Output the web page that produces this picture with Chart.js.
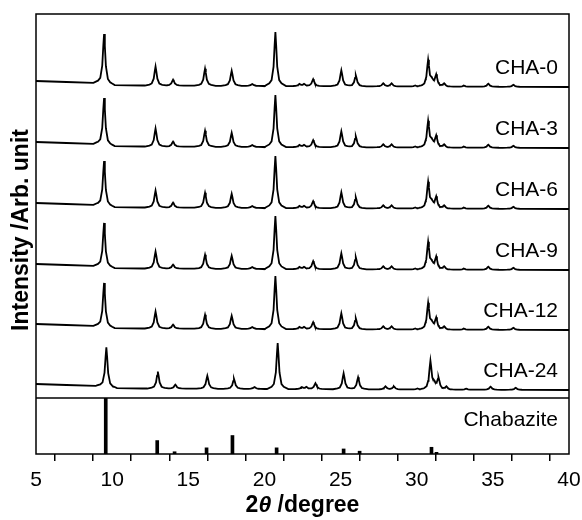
<!DOCTYPE html>
<html>
<head>
<meta charset="utf-8">
<script src="https://cdn.jsdelivr.net/npm/chart.js@4.4.0/dist/chart.umd.min.js"></script>
<style>
  html, body { margin: 0; padding: 0; background: #fff; }
  #wrap { width: 582px; height: 520px; }
</style>
</head>
<body>
<div id="wrap"><canvas id="xrdChart"></canvas></div>
<script>
// peak positions (2theta / degree), shared by all samples
var peakPos = [9.47, 12.85, 14.0, 16.1, 17.85, 19.2, 20.72, 22.3, 22.6, 23.2, 25.05, 26.0, 27.8, 28.35, 29.9, 30.75, 31.0, 31.28, 31.8, 33.1, 34.7, 36.35];

var samples = ['CHA-0', 'CHA-3', 'CHA-6', 'CHA-9', 'CHA-12', 'CHA-24'];
var sampleOffset = [311, 250, 189, 128, 68, 8];
var sampleShift = [0, 0, 0, 0, 0, 0.15];

// peak heights for each sample (same order as peakPos)
var cha0  = [50, 19, 6, 17, 15, 2, 54, 2, 2, 7, 16, 11, 3, 3, 1, 26, 5, 11, 3, 1, 3, 2];
var cha3  = [47, 18, 5, 16, 14, 2, 52, 2, 2, 7, 16, 11, 3, 3, 1, 26, 5, 11, 3, 1, 3, 2];
var cha6  = [45, 17, 5, 15, 14, 2, 52, 2, 2, 7, 16, 11, 3, 3, 1, 26, 5, 11, 3, 1, 3, 2];
var cha9  = [44, 17, 4, 14, 13, 2, 53, 2, 2, 8, 16, 12, 3, 3, 1, 27, 5, 12, 3, 1, 3, 2];
var cha12 = [44, 17, 4, 14, 13, 2, 53, 2, 2, 7, 16, 11, 3, 3, 1, 26, 5, 11, 3, 1, 3, 2];
var cha24 = [40, 17, 4, 13, 10, 2, 46, 2, 2, 6, 16, 12, 3, 3, 1, 28, 5, 11, 3, 1, 3, 2];
var heights = [cha0, cha3, cha6, cha9, cha12, cha24];

// low angle background of the patterns
var background = [[5, 6], [7, 5], [9, 4], [10, 2], [12, 1.5], [20, 1], [30, 0.5], [40, 0]];

// chabazite reference pattern
var refPos = [9.58, 12.96, 14.1, 16.2, 17.9, 20.8, 25.2, 26.25, 30.97, 31.3];
var refInt = [100, 24, 4, 11, 33, 11, 9, 5, 12, 3];

var xTicks = [5, 10, 15, 20, 25, 30, 35, 40];

// peak profile (line shape), not data
var shapeDx = [0, 0.05, 0.12, 0.25, 0.4, 0.7];
var shapeF = [1, 0.76, 0.36, 0.11, 0.05, 0];

function lerpTable(xs, ys, x) {
    if (x <= xs[0]) return ys[0];
    for (var i = 1; i < xs.length; i++) {
        if (x <= xs[i]) {
            var t = (x - xs[i - 1]) / (xs[i] - xs[i - 1]);
            return ys[i - 1] + t * (ys[i] - ys[i - 1]);
        }
    }
    return ys[ys.length - 1];
}

var bgX = background.map(function (b) { return b[0]; });
var bgY = background.map(function (b) { return b[1]; });

function buildTrace(h, offset, shift) {
    var xs = bgX.slice();
    peakPos.forEach(function (p) {
        shapeDx.forEach(function (d) {
            xs.push(p + shift + d);
            xs.push(p + shift - d);
        });
    });
    xs = xs.filter(function (x) { return x >= 5 && x <= 40; })
        .map(function (x) { return Math.round(x * 1000) / 1000; })
        .sort(function (a, b) { return a - b; });
    var pts = [];
    xs.forEach(function (x, i) {
        if (i > 0 && x === xs[i - 1]) return;
        var y = offset + lerpTable(bgX, bgY, x);
        peakPos.forEach(function (p, k) {
            y += h[k] * lerpTable(shapeDx, shapeF, Math.abs(x - p - shift));
        });
        pts.push({ x: x, y: y });
    });
    return pts;
}

var FONT = "'Liberation Sans', Arial, sans-serif";

var datasets = samples.map(function (name, i) {
    return {
        label: name,
        data: buildTrace(heights[i], sampleOffset[i], sampleShift[i]),
        borderColor: '#000',
        borderWidth: 1.8,
        pointRadius: 0,
        tension: 0,
        fill: false,
        yAxisID: 'ytop'
    };
});

datasets.push({
    type: 'bar',
    label: 'Chabazite',
    data: refPos.map(function (p, i) { return { x: p, y: refInt[i] }; }),
    backgroundColor: '#000',
    barThickness: 3,
    yAxisID: 'ybot'
});

var labelsPlugin = {
    id: 'xrdLabels',
    afterDraw: function (chart) {
        var ctx = chart.ctx;
        var a = chart.chartArea;
        var yt = chart.scales.ytop;
        var yb = chart.scales.ybot;
        ctx.save();
        // frame and divider
        ctx.strokeStyle = '#000';
        ctx.lineWidth = 1.5;
        ctx.strokeRect(a.left, a.top, a.right - a.left, a.bottom - a.top);
        ctx.beginPath();
        ctx.moveTo(a.left, yb.top);
        ctx.lineTo(a.right, yb.top);
        ctx.stroke();

        // sample names
        ctx.fillStyle = '#000';
        ctx.font = '21px ' + FONT;
        ctx.textAlign = 'right';
        ctx.textBaseline = 'middle';
        samples.forEach(function (name, i) {
            ctx.fillText(name, a.right - 11, yt.getPixelForValue(sampleOffset[i] + 19));
        });
        ctx.fillText('Chabazite', a.right - 11, yb.getPixelForValue(60));

        // y title
        ctx.save();
        ctx.translate(22, 230);
        ctx.rotate(-Math.PI / 2);
        ctx.textAlign = 'center';
        ctx.font = 'bold 23px ' + FONT;
        ctx.fillText('Intensity /Arb. unit', 0, 0);
        ctx.restore();

        // x title: 2θ /degree
        var parts = [['2', 'bold 23px '], ['\u03B8', 'italic bold 23px '], [' /degree', 'bold 23px ']];
        var total = 0;
        parts.forEach(function (p) { ctx.font = p[1] + FONT; total += ctx.measureText(p[0]).width; });
        var x0 = (a.left + a.right) / 2 - total / 2;
        ctx.textAlign = 'left';
        parts.forEach(function (p) {
            ctx.font = p[1] + FONT;
            ctx.fillText(p[0], x0, 506);
            x0 += ctx.measureText(p[0]).width;
        });
        ctx.restore();
    }
};

var ctx = document.getElementById('xrdChart');
var myChart = new Chart(ctx, {
    type: 'line',
    data: { datasets: datasets },
    options: {
        responsive: true,
        maintainAspectRatio: false,
        animation: false,
        layout: { padding: { top: 14, right: 13, left: 0, bottom: 0 } },
        plugins: { legend: { display: false }, tooltip: { enabled: false } },
        scales: {
            x: {
                type: 'linear',
                min: 5,
                max: 40,
                offset: false,
                ticks: {
                    stepSize: 2.5,
                    autoSkip: false,
                    maxRotation: 0,
                    color: '#000',
                    padding: 1,
                    font: { family: FONT, size: 21, lineHeight: 1.75 },
                    callback: function (v) { return xTicks.indexOf(v) >= 0 ? v : ''; }
                },
                grid: { drawOnChartArea: false, tickLength: 7, color: '#000', lineWidth: 1.5 },
                border: { display: false },
                afterFit: function (s) { s.height = 66; }
            },
            ytop: {
                type: 'linear',
                position: 'left',
                stack: 'panels',
                stackWeight: 384,
                weight: 2,
                min: 0,
                max: 384,
                ticks: { display: false },
                grid: { display: false },
                border: { display: false },
                afterFit: function (s) { s.width = 36; }
            },
            ybot: {
                type: 'linear',
                position: 'left',
                stack: 'panels',
                stackWeight: 56,
                weight: 1,
                min: 0,
                max: 100,
                ticks: { display: false },
                grid: { display: false },
                border: { display: false },
                afterFit: function (s) { s.width = 36; }
            }
        }
    },
    plugins: [labelsPlugin]
});
</script>
</body>
</html>
